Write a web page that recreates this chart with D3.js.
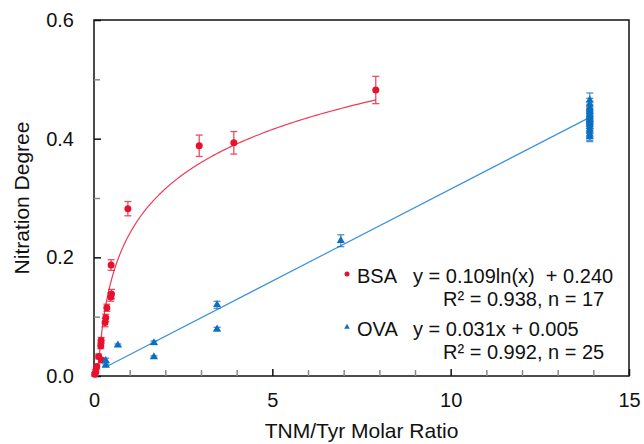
<!DOCTYPE html>
<html>
<head>
<meta charset="utf-8">
<script src="https://cdn.jsdelivr.net/npm/d3@7"></script>
<style>
  body { margin: 0; background: #fff; }
  text { font-family: "Liberation Sans", Arial, sans-serif; fill: #111; }
</style>
</head>
<body>
<script>
// BSA data (red circles)
var bsaX   = [7.9, 3.92, 2.95, 0.95, 0.48, 0.49, 0.47, 0.36, 0.33, 0.31, 0.2, 0.19, 0.13, 0.21, 0.075, 0.05, 0.02];
var bsaY   = [0.482, 0.393, 0.388, 0.282, 0.187, 0.138, 0.133, 0.115, 0.098, 0.09, 0.06, 0.051, 0.033, 0.027, 0.016, 0.008, 0.003];
var bsaErr = [0.023, 0.019, 0.018, 0.012, 0.009, 0.008, 0.007, 0.006, 0.006, 0.007, 0.005, 0.005, 0.004, 0.003, 0.004, 0.003, 0.003];

// OVA data (blue triangles)
var ovaX   = [6.92, 3.45, 3.45, 1.68, 1.68, 0.67, 0.33, 0.33,
              13.9, 13.9, 13.9, 13.9, 13.9, 13.9, 13.9, 13.9, 13.9, 13.9, 13.9, 13.9, 13.9, 13.9, 13.9, 13.9, 13.9];
var ovaY   = [0.228, 0.12, 0.079, 0.056, 0.032, 0.052, 0.026, 0.018,
              0.465, 0.458, 0.452, 0.448, 0.445, 0.441, 0.438, 0.435, 0.432, 0.43, 0.427, 0.424, 0.42, 0.416, 0.412, 0.407, 0.403];
var ovaErr = [0.01, 0.006, 0.003, 0.003, 0.002, 0.002, 0.004, 0.002,
              0.012, 0.01, 0.01, 0.01, 0.01, 0.01, 0.01, 0.01, 0.01, 0.01, 0.01, 0.01, 0.01, 0.01, 0.01, 0.01, 0.008];

// fits
var bsaFit = {a: 0.109, b: 0.240, xMax: 7.9};
var ovaFit = {a: 0.031, b: 0.005, xMin: 0.33, xMax: 13.9};

var xMajor = [0, 5, 10, 15];
var yMajor = [0, 0.2, 0.4, 0.6];

var legendNames = ["BSA", "OVA"];
var legendEq = ["y = 0.109ln(x)  + 0.240", "y = 0.031x + 0.005"];
var legendR2 = ["R\u00b2 = 0.938, n = 17", "R\u00b2 = 0.992, n = 25"];

const W = 644, H = 444;
const pLeft = 94, pRight = 629, pTop = 20, pBottom = 376;
const red = "#e8112d", blue = "#0b6fc1";

const svg = d3.select("body").append("svg")
    .attr("width", W).attr("height", H);

const x = d3.scaleLinear().domain([0, 15]).range([pLeft, pRight]);
const y = d3.scaleLinear().domain([0, 0.6]).range([pBottom, pTop]);

// frame
svg.append("rect")
    .attr("x", pLeft).attr("y", pTop)
    .attr("width", pRight - pLeft).attr("height", pBottom - pTop)
    .attr("fill", "none").attr("stroke", "#111").attr("stroke-width", 1.5);

// minor ticks
const xAxisMinor = d3.axisBottom(x).tickValues(d3.range(1, 15).filter(d => d % 5 != 0))
    .tickSizeInner(-6).tickSizeOuter(0).tickFormat("");
svg.append("g").attr("transform", "translate(0," + pBottom + ")").call(xAxisMinor)
    .call(g => g.select(".domain").remove())
    .call(g => g.selectAll("line").attr("stroke", "#888").attr("stroke-width", 1.5));

const yAxisMinor = d3.axisLeft(y).tickValues([0.1, 0.3, 0.5])
    .tickSizeInner(-6).tickSizeOuter(0).tickFormat("");
svg.append("g").attr("transform", "translate(" + pLeft + ",0)").call(yAxisMinor)
    .call(g => g.select(".domain").remove())
    .call(g => g.selectAll("line").attr("stroke", "#888").attr("stroke-width", 1.5));

// major ticks + labels
const xAxis = d3.axisBottom(x).tickValues(xMajor).tickSizeInner(-7).tickSizeOuter(0)
    .tickPadding(17).tickFormat(d3.format("d"));
svg.append("g").attr("transform", "translate(0," + pBottom + ")").call(xAxis)
    .call(g => g.select(".domain").remove())
    .call(g => g.selectAll("line").attr("stroke", "#111").attr("stroke-width", 1.5))
    .call(g => g.selectAll("text").attr("font-size", 20).attr("fill", "#111")
        .attr("font-family", "Liberation Sans, Arial, sans-serif"));

const yAxis = d3.axisLeft(y).tickValues(yMajor).tickSizeInner(-7).tickSizeOuter(0)
    .tickPadding(20).tickFormat(d3.format(".1f"));
svg.append("g").attr("transform", "translate(" + pLeft + ",0)").call(yAxis)
    .call(g => g.select(".domain").remove())
    .call(g => g.selectAll("line").attr("stroke", "#111").attr("stroke-width", 1.5))
    .call(g => g.selectAll("text").attr("font-size", 20).attr("fill", "#111")
        .attr("font-family", "Liberation Sans, Arial, sans-serif"));

// titles
svg.append("text").attr("x", (pLeft + pRight) / 2).attr("y", 438)
    .attr("text-anchor", "middle").attr("font-size", 21).text("TNM/Tyr Molar Ratio");
svg.append("text").attr("transform", "translate(29," + ((pTop + pBottom) / 2) + ") rotate(-90)")
    .attr("text-anchor", "middle").attr("font-size", 21).text("Nitration Degree");

// fit curves
const x0 = Math.exp(-bsaFit.b / bsaFit.a);
const bsaCurve = d3.range(0, 201).map(i => {
    const xv = x0 * Math.pow(bsaFit.xMax / x0, i / 200);
    return [xv, bsaFit.a * Math.log(xv) + bsaFit.b];
});
const line = d3.line().x(d => x(d[0])).y(d => y(d[1]));
svg.append("path").attr("d", line(bsaCurve))
    .attr("fill", "none").attr("stroke", "#ee3a55").attr("stroke-width", 1.2);

svg.append("path")
    .attr("d", line([[ovaFit.xMin, ovaFit.a * ovaFit.xMin + ovaFit.b],
                     [ovaFit.xMax, ovaFit.a * ovaFit.xMax + ovaFit.b]]))
    .attr("fill", "none").attr("stroke", "#3c92d8").attr("stroke-width", 1.2);

// error bars
function errBars(xs, ys, es, col) {
    const g = svg.append("g").attr("stroke", col).attr("stroke-width", 1.3).attr("opacity", 0.75);
    xs.forEach((xv, i) => {
        const px = x(xv), y1 = y(ys[i] + es[i]), y2 = y(ys[i] - es[i]);
        g.append("line").attr("x1", px).attr("x2", px).attr("y1", y1).attr("y2", y2);
        g.append("line").attr("x1", px - 3.5).attr("x2", px + 3.5).attr("y1", y1).attr("y2", y1);
        g.append("line").attr("x1", px - 3.5).attr("x2", px + 3.5).attr("y1", y2).attr("y2", y2);
    });
}
errBars(bsaX, bsaY, bsaErr, red);
errBars(ovaX, ovaY, ovaErr, blue);

// points
svg.append("g").selectAll("circle").data(bsaX).join("circle")
    .attr("cx", d => x(d)).attr("cy", (d, i) => y(bsaY[i]))
    .attr("r", 3.5).attr("fill", red);

const tri = d3.symbol().type(d3.symbolTriangle).size(28);
svg.append("g").selectAll("path").data(ovaX).join("path")
    .attr("transform", (d, i) => "translate(" + x(d) + "," + y(ovaY[i]) + ")")
    .attr("d", tri).attr("fill", blue);

// legend
const lg = svg.append("g");
const rowY = [283, 336];
legendNames.forEach((name, i) => {
    const ly = rowY[i];
    if (i == 0) {
        lg.append("circle").attr("cx", 347).attr("cy", ly - 9).attr("r", 2.5).attr("fill", red);
    } else {
        lg.append("path").attr("transform", "translate(347," + (ly - 9) + ")")
            .attr("d", d3.symbol().type(d3.symbolTriangle).size(14)).attr("fill", blue);
    }
    lg.append("text").attr("x", 357).attr("y", ly).attr("font-size", 20).text(name);
    lg.append("text").attr("x", 413).attr("y", ly).attr("font-size", 20)
        .attr("xml:space", "preserve").style("white-space", "pre").text(legendEq[i]);
    lg.append("text").attr("x", 443).attr("y", ly + 23).attr("font-size", 20).text(legendR2[i]);
});
</script>
</body>
</html>
